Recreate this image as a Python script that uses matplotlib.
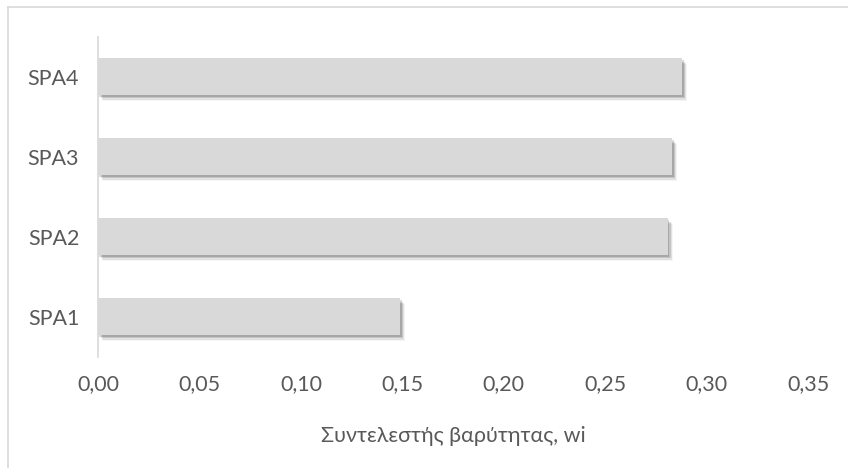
import matplotlib
matplotlib.use("Agg")
import matplotlib.pyplot as plt
import matplotlib.patheffects as pe
from matplotlib.lines import Line2D

# weight coefficients per alternative
categories = ["SPA1", "SPA2", "SPA3", "SPA4"]
weights = [0.149, 0.281, 0.283, 0.288]
xticks = [0.00, 0.05, 0.10, 0.15, 0.20, 0.25, 0.30, 0.35]
xlabel = "Συντελεστής βαρύτητας, wi"

text_color = "#595959"
bar_color = "#d9d9d9"
plt.rcParams["font.family"] = ["Lato", "DejaVu Sans"]
fs = 15.5

fig = plt.figure(figsize=(8.48, 4.68), dpi=100)
ax = fig.add_axes([0.1156, 0.2382, 0.8373, 0.6838])

# soft drop shadow built from a few stacked offset copies
shadow = [
    pe.SimplePatchShadow(offset=(3.5, -4.5), shadow_rgbFace="#000000", alpha=0.04),
    pe.SimplePatchShadow(offset=(2.5, -3.5), shadow_rgbFace="#000000", alpha=0.08),
    pe.SimplePatchShadow(offset=(2, -2.5), shadow_rgbFace="#000000", alpha=0.12),
    pe.SimplePatchShadow(offset=(1, -1.5), shadow_rgbFace="#000000", alpha=0.15),
    pe.Normal(),
]
bars = ax.barh(categories, weights, height=0.46, color=bar_color, zorder=3)
for b in bars:
    b.set_path_effects(shadow)

ax.set_xlim(0, 0.35)
ax.set_ylim(-0.5, len(categories) - 0.5)
ax.set_xticks(xticks)
ax.set_xticklabels([f"{t:.2f}".replace(".", ",") for t in xticks])
ax.tick_params(axis="x", length=0, pad=12.5, labelsize=fs, colors=text_color)
ax.tick_params(axis="y", length=0, pad=13.5, labelsize=fs, colors=text_color)
ax.set_xlabel(xlabel, fontsize=fs, color=text_color, labelpad=23)

for side in ["top", "right", "bottom"]:
    ax.spines[side].set_visible(False)
ax.spines["left"].set_color("#d9d9d9")
ax.spines["left"].set_linewidth(1.2)

# chart area border (top and left edges)
fig.add_artist(Line2D([8 / 848, 1], [1 - 7 / 468] * 2, color="#d9d9d9", lw=1.2))
fig.add_artist(Line2D([8 / 848] * 2, [0, 1 - 7 / 468], color="#d9d9d9", lw=1.2))

fig.savefig("out.png", dpi=100)
